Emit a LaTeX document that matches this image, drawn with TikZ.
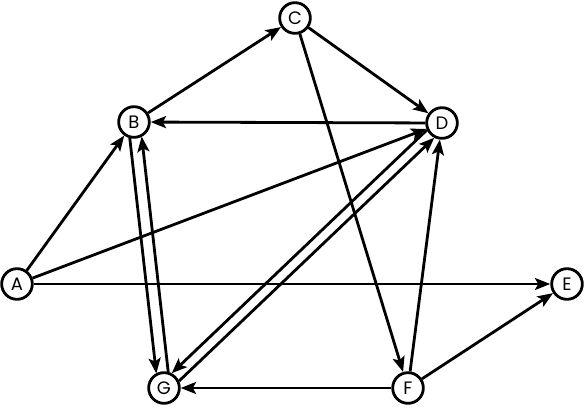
\documentclass[tikz,border=0pt]{standalone}
\usepackage{fontspec}
\setmainfont{Poppins}
\usetikzlibrary{arrows.meta,calc}
\tikzset{
  vtx/.style={circle,draw=black,line width=2.1pt,minimum size=23pt,inner sep=0pt,fill=white,font=\fontsize{13.5}{15}\selectfont},
  arr/.style={line width=2.1pt,-{Stealth[length=11.5pt,width=9pt,inset=2.5pt]}},
}
\begin{document}
\begin{tikzpicture}[x=0.75pt,y=-0.75pt]
\useasboundingbox (0,0) rectangle (587,408);
\node[vtx] (A) at (17,284) {A};
\node[vtx] (B) at (134,122) {B};
\node[vtx] (C) at (295,18) {C};
\node[vtx] (D) at (442,123) {D};
\node[vtx] (E) at (567,284) {E};
\node[vtx] (F) at (408,388) {F};
\node[vtx] (G) at (164,388) {G};
\draw[arr] (A) -- (B);
\draw[arr] (A) -- (D);
\draw[arr] (A) -- (E);
\draw[arr] (B) -- (C);
\draw[arr] (C) -- (D);
\draw[arr] (D) -- (B);
\draw[arr] (C) -- (F);
\draw[arr] (F) -- (G);
\draw[arr] (F) -- (D);
\draw[arr] (F) -- (E);
% B-G pair
\draw[arr,shorten <=11.5pt,shorten >=11.5pt] ($(B)!4.5pt!-90:(G)$) -- ($(G)!4.5pt!90:(B)$);
\draw[arr,shorten <=11.5pt,shorten >=11.5pt] ($(G)!4.5pt!-90:(B)$) -- ($(B)!4.5pt!90:(G)$);
% D-G pair
\draw[arr,shorten <=11.8pt,shorten >=11.8pt] ($(D)!4pt!-90:(G)$) -- ($(G)!4pt!90:(D)$);
\draw[arr,shorten <=11.8pt,shorten >=11.8pt] ($(G)!4pt!-90:(D)$) -- ($(D)!4pt!90:(G)$);
\end{tikzpicture}
\end{document}
